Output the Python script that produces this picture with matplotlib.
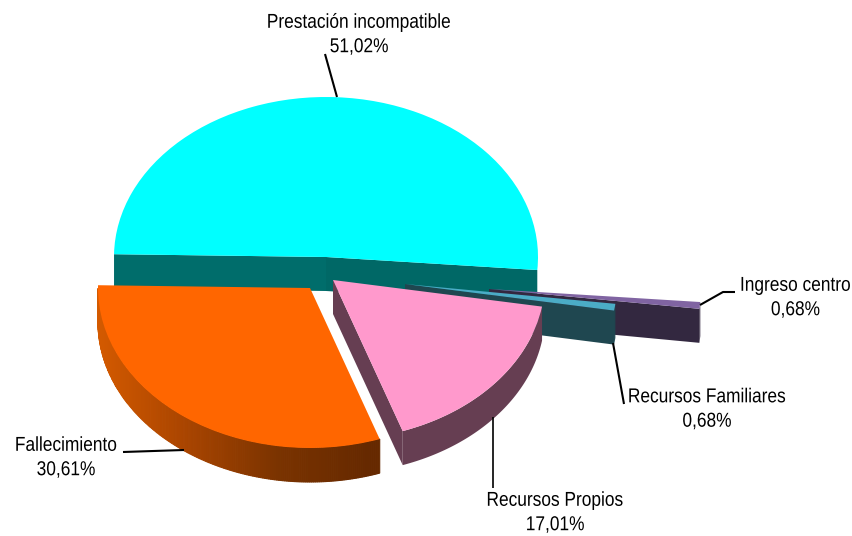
import numpy as np
import matplotlib
matplotlib.use('Agg')
import matplotlib.pyplot as plt
from matplotlib.patches import Wedge, Polygon
from matplotlib.patheffects import AbstractPathEffect
from matplotlib.transforms import Affine2D
from matplotlib.colors import LinearSegmentedColormap

labels = ['Prestación incompatible', 'Ingreso centro', 'Recursos Familiares', 'Recursos Propios', 'Fallecimiento']
values = [51.02, 0.68, 0.68, 17.01, 30.61]
value_labels = ['51,02%', '0,68%', '0,68%', '17,01%', '30,61%']

top_colors = ['#00FFFF', '#8064A2', '#4BACC6', '#FF99CC', '#FF6600']
side_colors = ['#006D6B', '#332840', '#1F4750', '#663E52', '#662900']

# pie geometry in pixels
CX, CY = 326, 257
RX, RY = 212, 160
DEPTH = 34
START = 179
offsets = [(0, 0), (163, 32), (79, 27), (7, 23), (-16, 31)]

plt.rcParams['font.family'] = ['Liberation Sans']
fig = plt.figure(figsize=(8.52, 5.36), dpi=100)
ax = fig.add_axes([0, 0, 1, 1])
ax.set_xlim(0, 852)
ax.set_ylim(536, 0)
ax.axis('off')

orange_side = LinearSegmentedColormap.from_list('orange_side', ['#D45A00', '#A84400', '#7A3300', '#662900'])


class Narrow(AbstractPathEffect):
    # no narrow font installed, so squeeze the glyphs sideways around one x
    def __init__(self, pivot, sx):
        super().__init__()
        self.pivot = pivot
        self.sx = sx

    def draw_path(self, renderer, gc, tpath, affine, rgbFace=None):
        squeeze = Affine2D().translate(-self.pivot, 0).scale(self.sx, 1).translate(self.pivot, 0)
        renderer.draw_path(gc, tpath, affine + squeeze, rgbFace)


def point(cx, cy, angle):
    a = np.radians(angle)
    return cx + RX * np.cos(a), cy - RY * np.sin(a)


def draw_slice(i, t1, t2):
    cx = CX + offsets[i][0]
    cy = CY + offsets[i][1]

    # straight cut faces, only the ones turned to the viewer
    for edge, normal in ((t1, t1 + 90), (t2, t2 - 90)):
        if np.sin(np.radians(normal)) < 0:
            ex, ey = point(cx, cy, edge)
            color = side_colors[i]
            if i == 0 and edge == t2:
                color = '#006866'
            ax.add_patch(Polygon([(cx, cy), (ex, ey), (ex, ey + DEPTH), (cx, cy + DEPTH)],
                                 closed=True, fc=color, ec='none', zorder=i + 1))

    # outer rim, lower half of the ellipse only
    angles = np.linspace(t2, t1, 200)
    angles = angles[np.sin(np.radians(angles)) < 0.0]
    if i == 0 or len(angles) < 2:
        pass
    elif i == 4:
        # orange rim is shaded from left to right, segments overlap so no seams show
        for a, b in zip(angles[:-1], angles[1:]):
            x0, y0 = point(cx, cy, a)
            x1, y1 = point(cx, cy, b)
            color = orange_side(float(np.clip((x0 - (cx - RX)) / 270.0, 0.0, 1.0)))
            ax.add_patch(Polygon([(x0, y0), (x1, y1), (x1, y1 + DEPTH), (x0, y0 + DEPTH)],
                                 closed=True, fc=color, ec=color, lw=0.8, zorder=i + 1))
    else:
        xs, ys = point(cx, cy, angles)
        pts = list(zip(xs, ys)) + list(zip(xs[::-1], ys[::-1] + DEPTH))
        ax.add_patch(Polygon(pts, closed=True, fc=side_colors[i], ec='none', zorder=i + 1))

    # top face
    tr = Affine2D().scale(RX, -RY).translate(cx, cy) + ax.transData
    ax.add_patch(Wedge((0, 0), 1, t2, t1, fc=top_colors[i], ec='none', transform=tr, zorder=i + 1.5))


angle = START
for i, v in enumerate(values):
    sweep = v / sum(values) * 360
    draw_slice(i, angle, angle - sweep)
    angle -= sweep

# leader lines
leaders = [
    ([325, 337], [54, 97], 1.5),
    ([735, 723, 700], [292, 292, 305], 1.5),
    ([624, 613], [404, 343], 1.5),
    ([493, 493], [488, 417], 1.2),
    ([123, 184], [452, 450], 1.5),
]
for lx, ly, w in leaders:
    ax.plot(lx, ly, color='black', lw=w, zorder=10, solid_capstyle='butt')

# labels
FONT_SIZE = 14.5
SQUEEZE = 0.86
text_pos = [(359, 34.5), (851, 297.5), (707, 409), (555, 512.5), (66, 457.5)]
text_ha = ['center', 'right', 'center', 'center', 'center']
for name, val, (tx, ty), ha in zip(labels, value_labels, text_pos, text_ha):
    ax.text(tx, ty, name + '\n' + val, ha=ha, va='center', multialignment='center', fontsize=FONT_SIZE,
            color='black', linespacing=1.36, zorder=11, path_effects=[Narrow(tx, SQUEEZE)])

plt.savefig('out.png', dpi=100)
